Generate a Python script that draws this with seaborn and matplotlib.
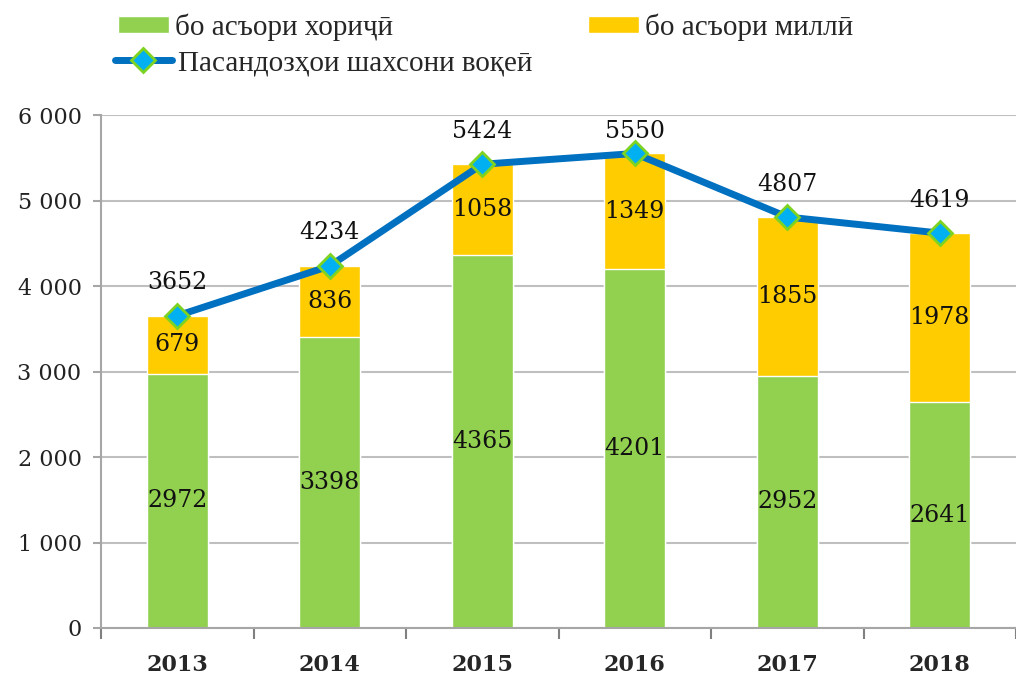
import matplotlib
matplotlib.use("Agg")
import matplotlib.pyplot as plt
import seaborn as sns
import numpy as np
import pandas as pd
from matplotlib.ticker import FixedLocator, FuncFormatter

years = ["2013", "2014", "2015", "2016", "2017", "2018"]
foreign = [2972, 3398, 4365, 4201, 2952, 2641]
national = [679, 836, 1058, 1349, 1855, 1978]
total = [3652, 4234, 5424, 5550, 4807, 4619]

lbl_foreign = "бо асъори хориҷӣ"
lbl_national = "бо асъори миллӣ"
lbl_total = "Пасандозҳои шахсони воқеӣ"

GREEN = "#92D050"
YELLOW = "#FFCC00"
BLUE = "#0070C0"
CYAN = "#00B0F0"

sns.set_theme(style="white")
plt.rcParams["font.family"] = ["DejaVu Serif"]

df = pd.DataFrame({"year": years, "foreign": foreign, "national": national, "total": total})
df["stack"] = df["foreign"] + df["national"]

fig = plt.figure(figsize=(10.16, 6.79), dpi=100)
ax = fig.add_axes([101/1016, 1-628/679, 1-101/1016, (628-115)/679])

sns.barplot(data=df, x="year", y="stack", color=YELLOW, width=0.4, saturation=1, ax=ax, label=lbl_national, zorder=2)
sns.barplot(data=df, x="year", y="foreign", color=GREEN, width=0.4, saturation=1, ax=ax, label=lbl_foreign, zorder=2)
sns.lineplot(data=df, x="year", y="total", color=BLUE, lw=5, marker="D", markersize=12,
             markerfacecolor=CYAN, markeredgecolor="#7ED321", markeredgewidth=2, ax=ax, label=lbl_total, zorder=4)

ax.set_ylim(0, 6000)
ax.set_xlim(-0.5, 5.5 - 6/154)
ax.yaxis.set_major_locator(FixedLocator(np.arange(0, 6001, 1000)))
ax.yaxis.set_major_formatter(FuncFormatter(lambda v, p: f"{int(v):,}".replace(",", " ")))
ax.grid(axis="y", color="#BFBFBF", lw=1.5, zorder=0)
ax.set_axisbelow(True)
ax.set_xlabel("")
ax.set_ylabel("")
for s in ["top", "right"]:
    ax.spines[s].set_visible(False)
for s in ["left", "bottom"]:
    ax.spines[s].set_color("#A6A6A6")
    ax.spines[s].set_linewidth(1.5)

ax.tick_params(axis="y", which="major", left=True, length=6, width=1.5, color="#A6A6A6", labelsize=16, pad=8, labelcolor="#222222")
ax.tick_params(axis="x", which="major", bottom=False, length=0, labelsize=16, pad=19)
for t in ax.get_xticklabels():
    t.set_fontweight("bold")
ax.set_xticks(np.arange(-0.5, 5.6, 1), minor=True)
ax.tick_params(axis="x", which="minor", bottom=True, length=8, width=1.5, color="#808080")

# data units per pixel on the y axis
upp = 6000 / (628 - 115)
for i in range(len(years)):
    ax.text(i, foreign[i] / 2, str(foreign[i]), ha="center", va="center", fontsize=17, color="#111111", zorder=5)
    ax.text(i, foreign[i] + national[i] / 2, str(national[i]), ha="center", va="center", fontsize=17, color="#111111", zorder=5)
    ty = min(total[i] + 33 * upp, 6000 - 17 * upp)
    ax.text(i, ty, str(total[i]), ha="center", va="center", fontsize=17, color="#111111", zorder=5)

handles, labels = ax.get_legend_handles_labels()
hmap = dict(zip(labels, handles))
ax.legend_ = None
lprop = {"family": ["Liberation Serif", "DejaVu Serif"], "size": 21}
common = dict(loc="center left", bbox_transform=fig.transFigure, frameon=False, prop=lprop,
              handletextpad=0.2, borderpad=0, borderaxespad=0)
leg1 = fig.legend([hmap[lbl_foreign]], [lbl_foreign], bbox_to_anchor=(118/1016, 1-27/679),
                  handlelength=1.75, handleheight=0.5, **common)
leg2 = fig.legend([hmap[lbl_national]], [lbl_national], bbox_to_anchor=(588/1016, 1-27/679),
                  handlelength=1.75, handleheight=0.5, **common)
leg3 = fig.legend([hmap[lbl_total]], [lbl_total], bbox_to_anchor=(115/1016, 1-63/679),
                  handlelength=1.95, **common)

fig.savefig("out.png", dpi=100)
